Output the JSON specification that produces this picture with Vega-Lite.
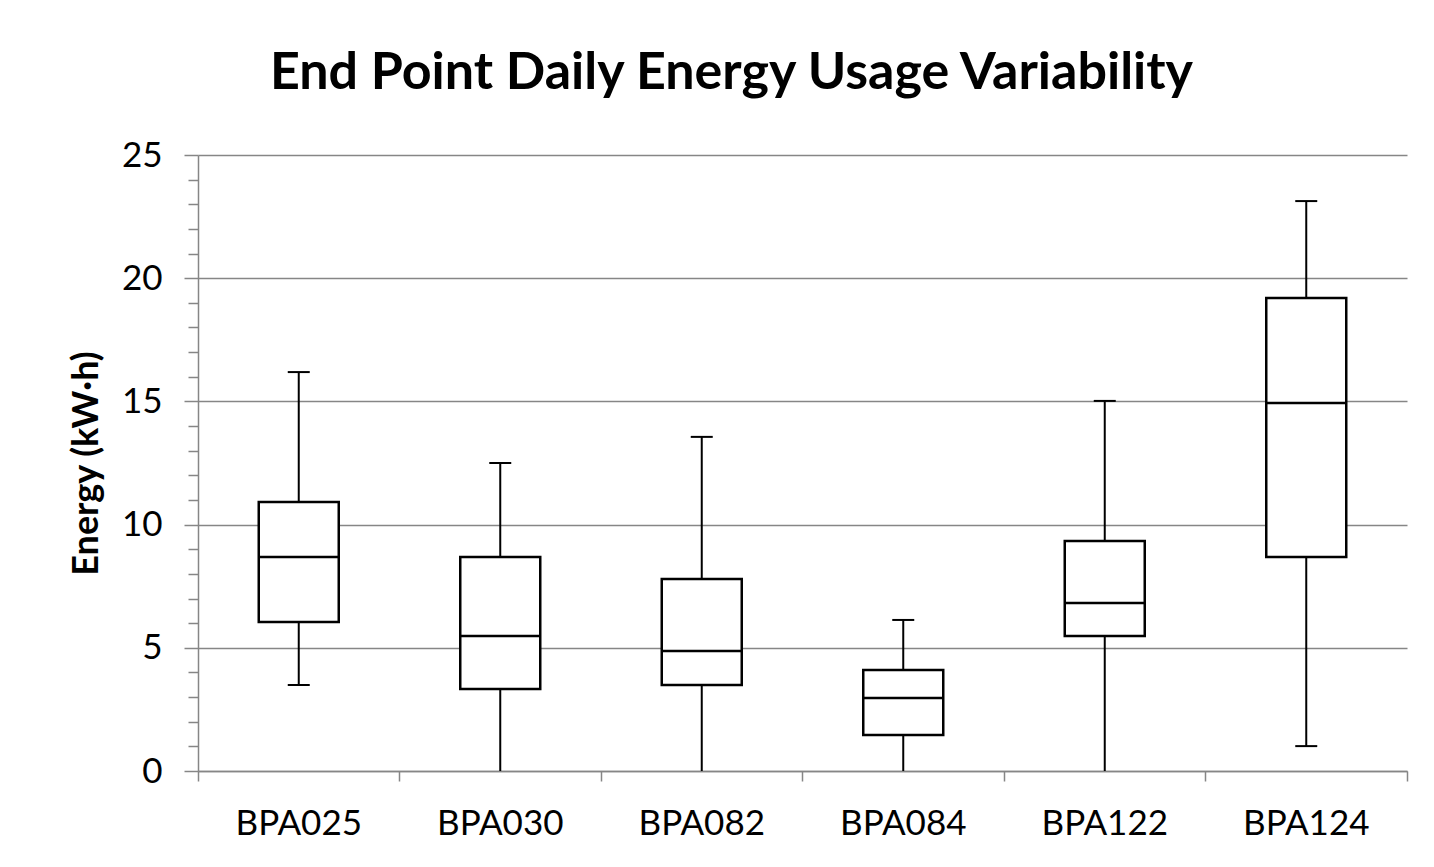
{
  "$schema": "https://vega.github.io/schema/vega-lite/v6.json",
  "autosize": "none",
  "width": 1209,
  "height": 616,
  "padding": {"left": 198, "top": 155, "right": 27, "bottom": 96},
  "background": "white",
  "config": {
    "view": {"stroke": null},
    "font": "Lato"
  },
  "title": {
    "text": "End Point Daily Energy Usage Variability",
    "fontSize": 52,
    "font": "Lato",
    "fontWeight": "bold",
    "color": "black",
    "anchor": "middle",
    "dx": -71,
    "offset": 38
  },
  "data": {
    "values": [
      {"cat": "BPA025", "min": 3.49, "q1": 6.05, "median": 8.68, "q3": 10.92, "max": 16.19},
      {"cat": "BPA030", "min": 0, "q1": 3.33, "median": 5.48, "q3": 8.68, "max": 12.5},
      {"cat": "BPA082", "min": 0, "q1": 3.49, "median": 4.87, "q3": 7.79, "max": 13.56},
      {"cat": "BPA084", "min": 0, "q1": 1.46, "median": 2.96, "q3": 4.1, "max": 6.13},
      {"cat": "BPA122", "min": 0, "q1": 5.48, "median": 6.82, "q3": 9.33, "max": 15.02},
      {"cat": "BPA124", "min": 1.01, "q1": 8.68, "median": 14.94, "q3": 19.2, "max": 23.13}
    ]
  },
  "resolve": {"axis": {"x": "independent", "y": "independent"}},
  "layer": [
    {
      "mark": {"type": "rule", "color": "black", "strokeWidth": 2},
      "encoding": {
        "x": {
          "field": "cat", "type": "nominal", "sort": null,
          "scale": {"paddingInner": 0, "paddingOuter": 0},
          "axis": {
            "orient": "bottom", "values": ["BPA124"], "bandPosition": 1,
            "labels": false, "domain": false, "grid": false, "title": null,
            "tickSize": 10, "tickColor": "#868686", "tickWidth": 1.5
          }
        },
        "y": {
          "field": "min", "type": "quantitative",
          "scale": {"domain": [0, 25], "nice": false, "zero": true},
          "axis": {
            "orient": "left",
            "values": [1,2,3,4,6,7,8,9,11,12,13,14,16,17,18,19,21,22,23,24],
            "labels": false, "domain": false, "grid": false, "title": null,
            "tickSize": 10, "tickColor": "#868686", "tickWidth": 1.5
          }
        },
        "y2": {"field": "max"}
      }
    },
    {
      "mark": {"type": "bar", "fill": "white", "stroke": "black", "strokeWidth": 2.5, "size": 80},
      "encoding": {
        "x": {
          "field": "cat", "type": "nominal", "sort": null,
          "axis": {
            "orient": "bottom", "title": null, "labelAngle": 0,
            "bandPosition": 0,
            "labelFontSize": 35, "labelFont": "Lato", "labelColor": "black",
            "labelPadding": 25, "labelAlign": "center",
            "tickSize": 10, "tickColor": "#868686", "tickWidth": 1.5,
            "domainColor": "#868686", "domainWidth": 1.5, "grid": false
          }
        },
        "y": {
          "field": "q1", "type": "quantitative",
          "axis": {
            "orient": "left",
            "values": [0, 5, 10, 15, 20, 25],
            "title": "Energy (kW·h)",
            "titleFontSize": 36, "titleFont": "Lato", "titleFontWeight": "bold", "titleColor": "black",
            "titlePadding": 16,
            "labelFontSize": 35, "labelFont": "Lato", "labelColor": "black",
            "labelPadding": 22,
            "tickSize": 14, "tickColor": "#868686", "tickWidth": 1.5,
            "domainColor": "#868686", "domainWidth": 1.5,
            "grid": true, "gridColor": "#868686", "gridWidth": 1.5
          }
        },
        "y2": {"field": "q3"}
      }
    },
    {
      "mark": {"type": "tick", "color": "black", "thickness": 2.5, "size": 80, "opacity": 1},
      "encoding": {
        "x": {"field": "cat", "type": "nominal", "sort": null, "axis": null},
        "y": {"field": "median", "type": "quantitative", "axis": null}
      }
    },
    {
      "mark": {"type": "tick", "color": "black", "thickness": 2, "size": 22, "opacity": 1},
      "encoding": {
        "x": {"field": "cat", "type": "nominal", "sort": null, "axis": null},
        "y": {"field": "max", "type": "quantitative", "axis": null}
      }
    },
    {
      "transform": [{"filter": "datum.min > 0"}],
      "mark": {"type": "tick", "color": "black", "thickness": 2, "size": 22, "opacity": 1},
      "encoding": {
        "x": {"field": "cat", "type": "nominal", "sort": null, "axis": null},
        "y": {"field": "min", "type": "quantitative", "axis": null}
      }
    }
  ]
}
